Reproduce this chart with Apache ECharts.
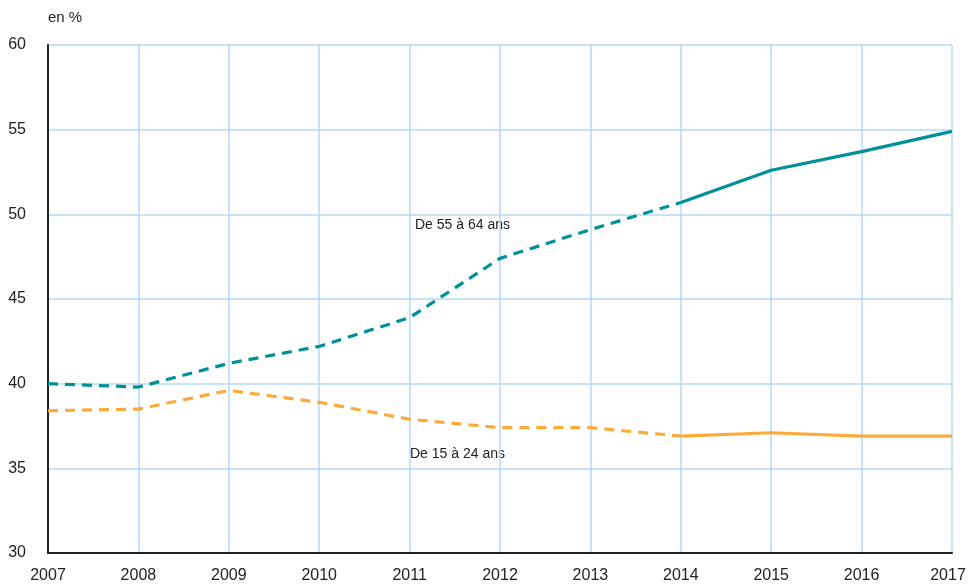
<!DOCTYPE html>
<html>
<head>
<meta charset="utf-8">
<script src="https://cdn.jsdelivr.net/npm/echarts@6/dist/echarts.min.js"></script>
<style>
  html, body { margin: 0; padding: 0; background: #fff; }
  #chart { width: 968px; height: 587px; }
</style>
</head>
<body>
<div id="chart"></div>
<script>
// années
var years = ['2007','2008','2009','2010','2011','2012','2013','2014','2015','2016','2017'];
// taux d'emploi, en %
var senior = [40.0, 39.8, 41.2, 42.2, 43.9, 47.4, 49.1, 50.7, 52.6, 53.7, 54.9];
var jeunes = [38.4, 38.5, 39.6, 38.9, 37.9, 37.4, 37.4, 36.9, 37.1, 36.9, 36.9];
// la partie pointillée s'arrête en 2014
var splitIdx = 7;

function part(arr, dashed) {
  return arr.map(function (v, i) {
    if (dashed) return i <= splitIdx ? v : null;
    return i >= splitIdx ? v : null;
  });
}

var font = '"Liberation Sans Narrow", "Arial Narrow", "Liberation Sans", sans-serif';
var teal = '#00909a';
var orange = '#fbab3c';

var chart = echarts.init(document.getElementById('chart'));

function serie(data, color, dashed) {
  return {
    type: 'line',
    data: data,
    symbol: 'none',
    smooth: false,
    connectNulls: false,
    silent: true,
    lineStyle: {
      color: color,
      width: 3.2,
      type: dashed ? [10, 7] : 'solid'
    }
  };
}

chart.setOption({
  animation: false,
  grid: { left: 48, right: 16, top: 45, bottom: 34, outerBoundsMode: 'none', containLabel: false },
  xAxis: {
    type: 'category',
    data: years,
    boundaryGap: false,
    axisLine: { show: true, lineStyle: { color: '#222', width: 2 } },
    axisTick: { show: false },
    axisLabel: {
      interval: 0,
      color: '#222', fontSize: 16, fontFamily: font, margin: 15,
      showMaxLabel: true, showMinLabel: true,
      // le dernier libellé est légèrement décalé pour rester dans le cadre
      formatter: function (v, i) { return i === years.length - 1 ? '{last|' + v + '}' : v; },
      rich: { last: { fontSize: 16, fontFamily: font, color: '#222', padding: [0, 8, 0, 0] } }
    },
    splitLine: { show: true, interval: 0, lineStyle: { color: '#b5daf3', width: 1.5 } }
  },
  yAxis: {
    type: 'value',
    min: 30,
    max: 60,
    interval: 5,
    axisLine: { show: true, lineStyle: { color: '#222', width: 2 } },
    axisTick: { show: false },
    axisLabel: { color: '#222', fontSize: 16, fontFamily: font, margin: 22 },
    splitLine: { show: true, lineStyle: { color: '#b5daf3', width: 1.5 } }
  },
  graphic: [
    { type: 'text', left: 48, top: 10, style: { text: 'en %', fontSize: 15, fontFamily: font, fill: '#222' } },
    { type: 'text', left: 415, top: 218, style: { text: 'De 55 à 64 ans', fontSize: 14, fontFamily: font, fill: '#222' } },
    { type: 'text', left: 410, top: 447, style: { text: 'De 15 à 24 ans', fontSize: 14, fontFamily: font, fill: '#222' } }
  ],
  series: [
    serie(part(senior, true), teal, true),
    serie(part(senior, false), teal, false),
    serie(part(jeunes, true), orange, true),
    serie(part(jeunes, false), orange, false)
  ]
});
</script>
</body>
</html>
